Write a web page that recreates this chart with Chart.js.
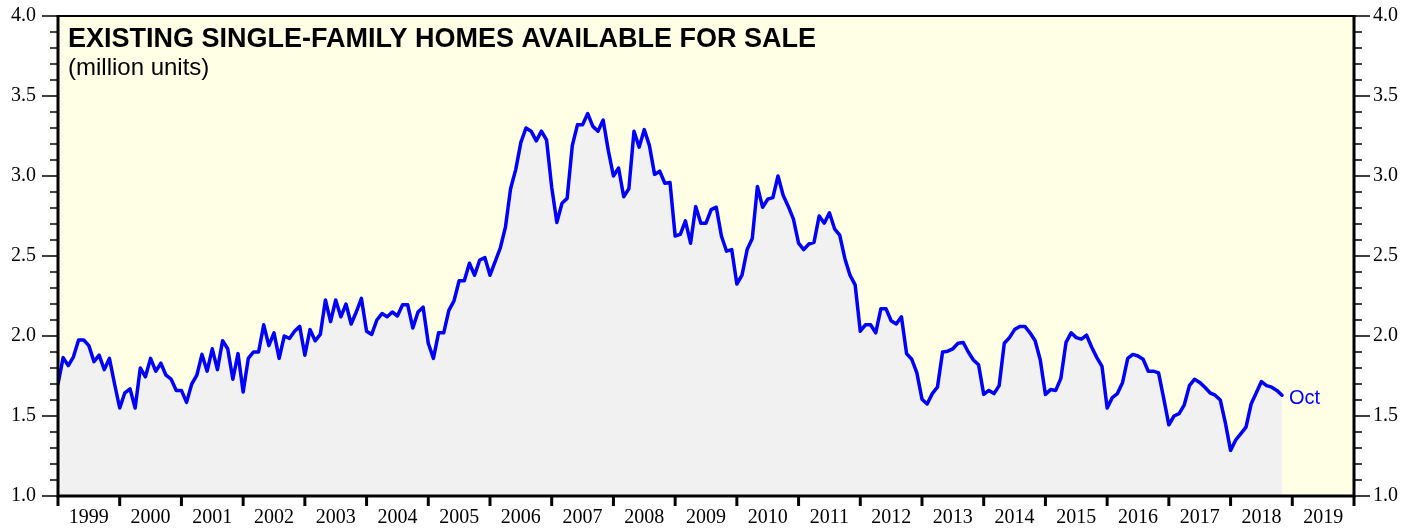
<!DOCTYPE html>
<html>
<head>
<meta charset="utf-8">
<script src="https://cdn.jsdelivr.net/npm/chart.js@4.4.1/dist/chart.umd.min.js"></script>
<style>
html,body{margin:0;padding:0;background:#ffffff;}
#wrap{width:1419px;height:529px;position:relative;}
</style>
</head>
<body>
<div id="wrap"><canvas id="c" width="1419" height="529"></canvas></div>
<script>
// ---- data (monthly, million units) ----
const startYear = 1999;          // first monthly observation plotted at the start of 1999
const values = [
  1.70,1.865,1.815,1.87,1.975,1.975,1.94,1.84,1.88,1.79,1.86,1.70,
  1.55,1.645,1.67,1.55,1.80,1.745,1.86,1.78,1.83,1.755,1.73,1.66,
  1.66,1.585,1.70,1.755,1.885,1.78,1.92,1.79,1.97,1.92,1.73,1.89,
  1.65,1.86,1.90,1.90,2.07,1.94,2.02,1.86,2.00,1.985,2.03,2.06,
  1.88,2.04,1.97,2.01,2.225,2.09,2.225,2.12,2.20,2.075,2.15,2.235,
  2.03,2.01,2.10,2.14,2.12,2.15,2.125,2.195,2.195,2.05,2.15,2.18,
  1.955,1.86,2.02,2.02,2.16,2.22,2.345,2.345,2.455,2.38,2.475,2.49,
  2.38,2.465,2.55,2.68,2.92,3.04,3.21,3.30,3.28,3.22,3.28,3.225,
  2.93,2.71,2.83,2.86,3.19,3.32,3.32,3.39,3.31,3.28,3.35,3.16,
  3.00,3.05,2.87,2.92,3.28,3.18,3.29,3.19,3.01,3.03,2.955,2.96,
  2.625,2.635,2.72,2.58,2.81,2.705,2.705,2.79,2.805,2.625,2.53,2.54,
  2.325,2.38,2.54,2.61,2.935,2.805,2.855,2.865,3.00,2.88,2.81,2.73,
  2.58,2.54,2.575,2.585,2.75,2.705,2.77,2.67,2.63,2.485,2.38,2.32,
  2.03,2.07,2.07,2.02,2.17,2.17,2.095,2.075,2.12,1.89,1.855,1.77,
  1.605,1.575,1.64,1.68,1.90,1.905,1.92,1.955,1.96,1.90,1.85,1.82,
  1.635,1.66,1.64,1.69,1.955,1.99,2.04,2.06,2.06,2.02,1.97,1.85,
  1.635,1.665,1.66,1.735,1.96,2.02,1.99,1.98,2.005,1.93,1.865,1.81,
  1.55,1.615,1.64,1.71,1.86,1.885,1.875,1.855,1.78,1.78,1.77,1.61,
  1.445,1.50,1.515,1.57,1.69,1.73,1.71,1.68,1.645,1.63,1.60,1.455,
  1.285,1.35,1.39,1.43,1.575,1.645,1.715,1.69,1.68,1.66,1.63
];
const yearLabels = [1999,2000,2001,2002,2003,2004,2005,2006,2007,2008,2009,2010,2011,2012,2013,2014,2015,2016,2017,2018,2019];
const yMin = 1.0, yMax = 4.0, yMajorStep = 0.5, yMinorStep = 0.1;
const titleText = 'EXISTING SINGLE-FAMILY HOMES AVAILABLE FOR SALE';
const subtitleText = '(million units)';
const lastLabel = 'Oct';

// ---- build ----
const points = values.map((v, i) => ({ x: startYear + i / 12, y: v }));
const xMin = yearLabels[0], xMax = yearLabels[yearLabels.length - 1] + 1;

const decor = {
  id: 'decor',
  beforeDraw(chart) {
    const { ctx, chartArea: a } = chart;
    ctx.save();
    ctx.fillStyle = '#ffffe6';
    ctx.fillRect(a.left, a.top, a.right - a.left, a.bottom - a.top);
    ctx.restore();
  },
  afterDraw(chart) {
    const { ctx, chartArea: a, scales } = chart;
    const ys = scales.y, xs = scales.x;
    ctx.save();
    ctx.strokeStyle = '#000';
    ctx.lineWidth = 1.5;
    const nSteps = Math.round((yMax - yMin) / yMinorStep);
    const perMajor = Math.round(yMajorStep / yMinorStep);
    for (let k = 0; k <= nSteps; k++) {
      const v = yMin + k * yMinorStep;
      const py = ys.getPixelForValue(v);
      const len = (k % perMajor === 0) ? 16 : 8;
      ctx.beginPath();
      ctx.moveTo(a.left, py); ctx.lineTo(a.left - len, py);
      ctx.moveTo(a.right, py); ctx.lineTo(a.right + len, py);
      ctx.stroke();
    }
    ctx.lineWidth = 3;
    for (let yv = xMin; yv <= xMax; yv++) {
      const px = xs.getPixelForValue(yv);
      ctx.beginPath();
      ctx.moveTo(px, a.bottom); ctx.lineTo(px, a.bottom + 10);
      ctx.stroke();
    }
    ctx.lineWidth = 3;
    ctx.beginPath();
    ctx.moveTo(a.left, a.top); ctx.lineTo(a.left, a.bottom);
    ctx.moveTo(a.right, a.top); ctx.lineTo(a.right, a.bottom);
    ctx.moveTo(a.left - 1.5, a.bottom); ctx.lineTo(a.right + 1.5, a.bottom);
    ctx.stroke();
    ctx.lineWidth = 2;
    ctx.beginPath();
    ctx.moveTo(a.left - 1.5, a.top); ctx.lineTo(a.right + 1.5, a.top);
    ctx.stroke();
    ctx.fillStyle = '#000';
    ctx.textAlign = 'left';
    ctx.textBaseline = 'alphabetic';
    ctx.font = 'bold 27px "Liberation Sans", Arial, sans-serif';
    ctx.fillText(titleText, a.left + 10, a.top + 31);
    ctx.font = '24px "Liberation Sans", Arial, sans-serif';
    ctx.fillText(subtitleText, a.left + 10, a.top + 59);
    const last = points[points.length - 1];
    const lx = xs.getPixelForValue(last.x), ly = ys.getPixelForValue(last.y);
    ctx.fillStyle = '#0000ff';
    ctx.font = '20px "Liberation Sans", Arial, sans-serif';
    ctx.fillText(lastLabel, lx + 7, ly + 9);
    ctx.restore();
  }
};

const serif = '"Liberation Serif", "Times New Roman", serif';
const noPad = s => { s.paddingTop = 0; s.paddingBottom = 0; s.paddingLeft = 0; s.paddingRight = 0; };

new Chart(document.getElementById('c'), {
  type: 'line',
  data: {
    datasets: [{
      data: points,
      borderColor: '#0000ff',
      borderWidth: 3.5,
      backgroundColor: '#f1f1f1',
      fill: 'start',
      pointRadius: 0,
      tension: 0,
      borderJoinStyle: 'round',
      borderCapStyle: 'round'
    }]
  },
  options: {
    responsive: false,
    animation: false,
    events: [],
    layout: { padding: { top: 16, left: 0, right: 0, bottom: 0 } },
    plugins: { legend: { display: false }, tooltip: { enabled: false }, title: { display: false } },
    scales: {
      x: {
        type: 'linear', position: 'bottom', min: xMin, max: xMax,
        grid: { display: false, drawTicks: false }, border: { display: false },
        afterBuildTicks: s => { s.ticks = yearLabels.map(y => ({ value: y + 0.5 })); },
        ticks: {
          autoSkip: false, maxRotation: 0, minRotation: 0, padding: 10, color: '#000',
          font: { family: serif, size: 20 },
          callback: v => String(Math.floor(v))
        },
        afterFit: s => { s.height = 33; noPad(s); }
      },
      y: {
        position: 'left', min: yMin, max: yMax,
        grid: { display: false, drawTicks: false }, border: { display: false },
        ticks: { stepSize: yMajorStep, padding: 22, color: '#000', autoSkip: false,
          font: { family: serif, size: 20 }, callback: v => Number(v).toFixed(1) },
        afterFit: s => { s.width = 58; noPad(s); }
      },
      y2: {
        position: 'right', min: yMin, max: yMax,
        grid: { display: false, drawTicks: false }, border: { display: false },
        ticks: { stepSize: yMajorStep, padding: 19, color: '#000', autoSkip: false,
          font: { family: serif, size: 20 }, callback: v => Number(v).toFixed(1) },
        afterFit: s => { s.width = 65; noPad(s); }
      }
    }
  },
  plugins: [decor]
});
</script>
</body>
</html>
